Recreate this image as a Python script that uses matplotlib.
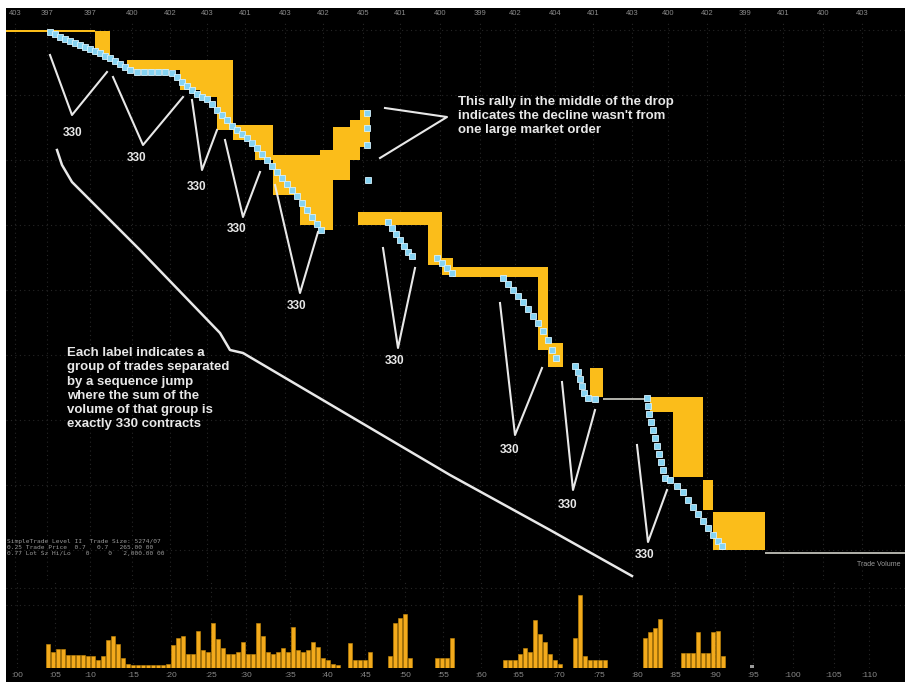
#!/usr/bin/env python3
"""
Time & sales chart of a fast sell-off: offer steps (yellow), trades (cyan),
volume bars below, with the 330-contract group annotations.
"""

import matplotlib.pyplot as plt

# ---- price pane data (time in seconds, price in ticks) ----
# yellow offer bands: start, end, top, bottom
wave1_start = [6, 95, 127, 180, 200, 217, 233, 255, 273, 300, 320, 333, 350, 360]
wave1_end = [95, 110, 180, 200, 217, 233, 255, 273, 300, 320, 333, 350, 360, 370]
wave1_top = [570, 569, 540, 540, 540, 540, 475, 475, 445, 445, 450, 473, 480, 490]
wave1_bot = [568, 545, 530, 510, 503, 470, 460, 440, 405, 375, 370, 420, 440, 453]

wave2_start = [358, 428, 442, 453, 538, 548, 590, 650, 673, 703, 713]
wave2_end = [428, 442, 453, 538, 548, 563, 603, 673, 703, 713, 765]
wave2_top = [388, 388, 342, 333, 333, 257, 232, 203, 203, 120, 88]
wave2_bot = [375, 335, 325, 323, 250, 233, 203, 188, 123, 90, 50]

# trades
trade_t = [50, 55, 60, 65, 70, 75, 80, 85, 90, 95, 100, 105, 110, 115, 120, 125,
           130, 137, 144, 151, 158, 165, 172, 177, 182, 187, 192, 197, 202, 207,
           212, 217, 222, 227, 232, 237, 242, 247, 252, 257, 262, 267, 272, 277,
           282, 287, 292, 297, 302, 307, 312, 317, 321,
           367, 367, 367, 368,
           388, 392, 396, 400, 404, 408, 412, 437, 442, 447, 452,
           503, 508, 513, 518, 523, 528, 533, 538, 543, 548, 552, 556,
           575, 578, 580, 582, 584, 588, 595,
           647, 648, 649, 651, 653, 655, 657, 659, 661, 663, 665,
           670, 677, 683, 688, 693, 698, 703, 708, 713, 718, 722]
trade_p = [568, 566, 563, 561, 559, 557, 555, 553, 551, 549, 547, 544, 542, 539, 536, 533,
           530, 528, 528, 528, 528, 528, 527, 523, 518, 514, 510, 506, 503, 501,
           496, 490, 485, 480, 474, 470, 466, 462, 457, 452, 446, 440, 434, 428,
           422, 416, 410, 404, 397, 390, 383, 376, 370,
           487, 472, 455, 420,
           378, 372, 366, 360, 354, 348, 344, 342, 337, 332, 327,
           322, 316, 310, 304, 298, 291, 284, 277, 269, 260, 250, 242,
           234, 228, 221, 214, 207, 202, 201,
           202, 194, 186, 178, 170, 162, 154, 146, 138, 130, 122,
           120, 114, 108, 100, 93, 86, 79, 72, 65, 59, 54]

# last-trade level where price sat still
flat_t0 = [603, 765]
flat_t1 = [647, 905]
flat_p = [201, 47]

# ---- volume pane data ----
vol_t = [48, 53, 58, 63, 68, 73, 78, 83, 88, 93, 98, 103, 108, 113, 118, 123,
         128, 133, 138, 143, 148, 153, 158, 163, 168, 173, 178, 183, 188, 193,
         198, 203, 208, 213, 218, 223, 228, 233, 238, 243, 248, 253, 258, 263,
         268, 273, 278, 283, 288, 293, 298, 303, 308, 313, 318, 323, 328, 333, 338,
         350, 355, 360, 365, 370,
         390, 395, 400, 405, 410,
         437, 442, 447, 452,
         505, 510, 515, 520, 525, 530, 535, 540, 545, 550, 555, 560,
         575, 580, 585, 590, 595, 600, 605,
         645, 650, 655, 660,
         683, 688, 693, 698, 703, 708, 713, 718, 723]
vol = [24, 16, 19, 19, 13, 13, 13, 13, 12, 12, 8, 12, 28, 32, 24, 10,
       4, 3, 3, 3, 3, 3, 3, 3, 4, 23, 30, 32, 14, 14,
       37, 18, 16, 45, 29, 20, 14, 14, 16, 26, 14, 14, 45, 32,
       16, 14, 16, 20, 16, 41, 18, 16, 18, 26, 21, 10, 8, 4, 3,
       25, 8, 8, 8, 16,
       12, 45, 50, 54, 10,
       10, 10, 10, 30,
       8, 8, 8, 14, 20, 16, 48, 34, 26, 14, 8, 4,
       30, 73, 12, 8, 8, 8, 8,
       30, 36, 40, 49,
       15, 15, 15, 36, 15, 15, 36, 37, 12]
pending_t = [752]
pending_v = [3]

# ---- tick labels ----
top_tick_t = [15, 47, 90, 132, 170, 207, 245, 285, 323, 363, 400, 440,
              480, 515, 555, 593, 632, 668, 707, 745, 783, 823, 862]
top_tick_lab = ['403', '397', '397', '400', '402', '403', '401', '403', '402', '405',
                '401', '400', '399', '402', '404', '401', '403', '400', '402', '399',
                '401', '400', '403']
bot_tick_t = [17, 55, 90, 133, 171, 211, 246, 290, 327, 365, 405, 443, 481,
              518, 559, 599, 637, 675, 715, 753, 793, 834, 869]
bot_tick_lab = [':%02d' % (i * 5) for i in range(len(bot_tick_t))]

# ---- annotations ----
group_label = '330'
label_t = [73, 137, 197, 237, 297, 395, 510, 568, 645]
label_p = [467, 442, 413, 371, 294, 239, 150, 95, 45]
v_left_t = [50, 113, 192, 225, 275, 383, 500, 562, 637]
v_left_p = [545, 523, 500, 460, 415, 352, 297, 218, 155]
v_tip_t = [72, 143, 202, 243, 300, 398, 515, 573, 648]
v_tip_p = [485, 455, 430, 383, 307, 252, 165, 110, 58]
v_right_t = [107, 183, 217, 260, 318, 415, 542, 595, 667]
v_right_p = [528, 503, 470, 428, 368, 332, 232, 190, 110]

rally_ptr_t = [385, 447, 380]
rally_ptr_p = [492, 483, 442]
brace_t = [57, 62, 72, 90, 115, 140, 220, 230, 243, 450, 550, 632]
brace_p = [450, 435, 418, 400, 375, 350, 267, 250, 247, 125, 70, 24]

rally_note = ("This rally in the middle of the drop\n"
              "indicates the decline wasn't from\n"
              "one large market order")
group_note = ("Each label indicates a\n"
              "group of trades separated\n"
              "by a sequence jump\n"
              "where the sum of the\n"
              "volume of that group is\n"
              "exactly 330 contracts")
info_lines = ("SimpleTrade Level II  Trade Size: 5274/07\n"
              "0.25 Trade Price  0.7   0.7   265.00 00\n"
              "0.77 Lot Sz Hi/Lo    0     0   2,000.00 00")

YELLOW = '#fbbd1a'
CYAN = '#86d3f2'
WHITE = '#e8e8e8'

W, H = 905, 682


def frame(x0, y0, x1, y1):
    # figure-fraction box from pixel edges
    return [x0 / W, 1 - y1 / H, (x1 - x0) / W, (y1 - y0) / H]


plt.rcParams['font.family'] = ['Liberation Sans', 'DejaVu Sans']

fig = plt.figure(figsize=(9.05, 6.82), dpi=100, facecolor='white')

# black screen background
bg = fig.add_axes(frame(6, 8, 905, 682))
bg.set_facecolor('black')
bg.set_xticks([])
bg.set_yticks([])
for s in bg.spines.values():
    s.set_visible(False)

# price pane
ax = fig.add_axes(frame(6, 20, 905, 580))
ax.patch.set_alpha(0)
ax.set_xlim(6, 905)
ax.set_ylim(20, 580)
for s in ax.spines.values():
    s.set_visible(False)
ax.xaxis.tick_top()
ax.set_xticks(top_tick_t)
ax.set_xticklabels(top_tick_lab)
ax.set_yticks(range(50, 580, 65))
ax.tick_params(axis='x', length=0, labelsize=5.5, labelcolor='#8a8a8a', pad=2)
ax.tick_params(axis='y', length=0, labelleft=False)
ax.grid(True, color='#262626', linestyle=(0, (1, 3)), linewidth=0.8)
ax.set_axisbelow(True)

for st, en, top, bot in ((wave1_start, wave1_end, wave1_top, wave1_bot),
                         (wave2_start, wave2_end, wave2_top, wave2_bot)):
    widths = [e - s for s, e in zip(st, en)]
    heights = [t - b for t, b in zip(top, bot)]
    ax.bar(st, heights, width=widths, bottom=bot, align='edge',
           color=YELLOW, linewidth=0, zorder=2)

ax.hlines(flat_p, flat_t0, flat_t1, colors='#d0d0c8', linewidth=1.2, zorder=2)
ax.plot(trade_t, trade_p, linestyle='none', marker='s', markersize=4,
        markerfacecolor=CYAN, markeredgecolor='#d6f3ff', markeredgewidth=0.6,
        zorder=3)

# 330 group markers
for i in range(len(label_t)):
    ax.plot([v_left_t[i], v_tip_t[i], v_right_t[i]],
            [v_left_p[i], v_tip_p[i], v_right_p[i]],
            color=WHITE, linewidth=1.5, zorder=4)
    ax.text(label_t[i], label_p[i], group_label, color=WHITE, fontsize=8.5,
            fontweight='bold', ha='center', va='center', zorder=4)

ax.plot(rally_ptr_t, rally_ptr_p, color=WHITE, linewidth=1.5, zorder=4)
ax.plot(brace_t, brace_p, color=WHITE, linewidth=1.8, zorder=4,
        clip_on=False)

ax.text(458, 504, rally_note, color=WHITE, fontsize=9.5, fontweight='bold',
        va='top', linespacing=1.2, zorder=4)
ax.text(67, 253, group_note, color=WHITE, fontsize=9.5, fontweight='bold',
        va='top', linespacing=1.25, zorder=4)
ax.text(7, 61, info_lines, color='#9a9a9a', fontsize=4.5, va='top',
        linespacing=1.3, family='DejaVu Sans Mono')
ax.text(900, 36, 'Trade Volume', color='#9a9a9a', fontsize=5, ha='right',
        va='center')

# volume pane
axv = fig.add_axes(frame(6, 580, 905, 668))
axv.patch.set_alpha(0)
axv.set_xlim(6, 905)
axv.set_ylim(0, 88)
for s in axv.spines.values():
    s.set_visible(False)
axv.bar(vol_t, vol, width=4.6, color='#f3aa1c', edgecolor='#c88a08',
        linewidth=0.4, zorder=2)
axv.bar(pending_t, pending_v, width=4, color='#9a9a9a', zorder=2)
axv.set_xticks(bot_tick_t)
axv.set_xticklabels(bot_tick_lab)
axv.set_yticks([63, 80])
axv.tick_params(axis='x', length=0, labelsize=6, labelcolor='#8a8a8a', pad=3)
axv.tick_params(axis='y', length=0, labelleft=False)
axv.grid(True, color='#262626', linestyle=(0, (1, 3)), linewidth=0.8)
axv.set_axisbelow(True)

plt.savefig('out.png', dpi=100, facecolor=fig.get_facecolor())
print("saved out.png")
